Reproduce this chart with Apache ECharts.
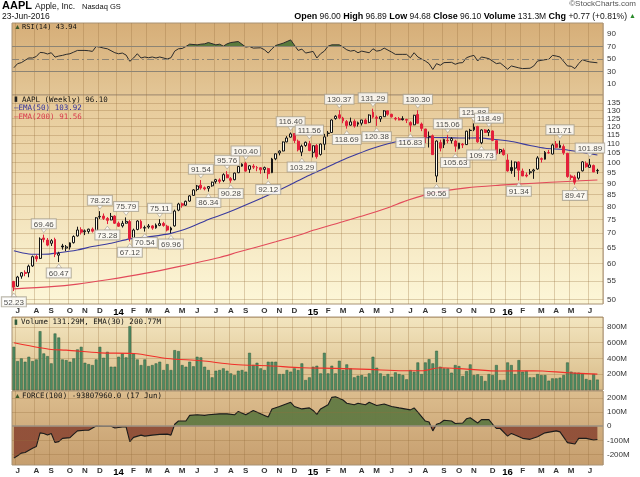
<!DOCTYPE html>
<html><head><meta charset="utf-8"><title>AAPL weekly</title>
<script src="https://cdn.jsdelivr.net/npm/echarts@6.0.0/dist/echarts.min.js"></script>
<style>html,body{margin:0;padding:0;background:#fff;}#chart{width:640px;height:477px;}</style>
</head><body><div id="chart"></div>
<script>
// ---------- DATA ----------
const dates = ['2013-06-24','2013-07-01','2013-07-08','2013-07-15','2013-07-22','2013-07-29','2013-08-05','2013-08-12','2013-08-19','2013-08-26','2013-09-02','2013-09-09','2013-09-16','2013-09-23','2013-09-30','2013-10-07','2013-10-14','2013-10-21','2013-10-28','2013-11-04','2013-11-11','2013-11-18','2013-11-25','2013-12-02','2013-12-09','2013-12-16','2013-12-23','2013-12-30',
'2014-01-06','2014-01-13','2014-01-20','2014-01-27','2014-02-03','2014-02-10','2014-02-17','2014-02-24','2014-03-03','2014-03-10','2014-03-17','2014-03-24','2014-03-31','2014-04-07','2014-04-14','2014-04-21','2014-04-28','2014-05-05','2014-05-12','2014-05-19','2014-05-26','2014-06-02','2014-06-09','2014-06-16','2014-06-23','2014-06-30','2014-07-07','2014-07-14','2014-07-21','2014-07-28','2014-08-04','2014-08-11','2014-08-18','2014-08-25','2014-09-01','2014-09-08','2014-09-15','2014-09-22','2014-09-29','2014-10-06','2014-10-13','2014-10-20','2014-10-27','2014-11-03','2014-11-10','2014-11-17','2014-11-24','2014-12-01','2014-12-08','2014-12-15','2014-12-22','2014-12-29',
'2015-01-05','2015-01-12','2015-01-19','2015-01-26','2015-02-02','2015-02-09','2015-02-16','2015-02-23','2015-03-02','2015-03-09','2015-03-16','2015-03-23','2015-03-30','2015-04-06','2015-04-13','2015-04-20','2015-04-27','2015-05-04','2015-05-11','2015-05-18','2015-05-25','2015-06-01','2015-06-08','2015-06-15','2015-06-22','2015-06-29','2015-07-06','2015-07-13','2015-07-20','2015-07-27','2015-08-03','2015-08-10','2015-08-17','2015-08-24','2015-08-31','2015-09-07','2015-09-14','2015-09-21','2015-09-28','2015-10-05','2015-10-12','2015-10-19','2015-10-26','2015-11-02','2015-11-09','2015-11-16','2015-11-23','2015-11-30','2015-12-07','2015-12-14','2015-12-21','2015-12-28',
'2016-01-04','2016-01-11','2016-01-18','2016-01-25','2016-02-01','2016-02-08','2016-02-15','2016-02-22','2016-02-29','2016-03-07','2016-03-14','2016-03-21','2016-03-28','2016-04-04','2016-04-11','2016-04-18','2016-04-25','2016-05-02','2016-05-09','2016-05-16','2016-05-23','2016-05-30','2016-06-06','2016-06-13','2016-06-20','2016-06-27'];

const opens = [54.8,53.5,56.3,57.4,57.3,59.3,62.2,61.6,68.3,67.6,
66.5,67.8,62.6,65.6,64.9,65.2,66.7,69.0,71.2,70.5,
70.6,71.4,70.9,76.0,76.3,75.4,74.8,76.3,73.6,72.6,
73.6,74.2,68.2,71.3,74.3,71.8,72.2,72.6,71.9,72.8,
73.5,72.5,71.1,72.6,78.6,81.2,80.6,82.3,84.7,87.3,
89.2,88.0,87.8,88.9,90.8,91.6,91.3,94.0,92.2,91.7,
95.0,98.2,99.6,96.6,98.2,97.3,97.4,96.6,97.0,95.0,
101.9,105.0,106.0,111.0,113.7,115.8,111.4,105.4,109.0,110.0,
105.3,109.0,104.2,109.7,115.8,116.4,124.9,127.3,125.2,123.0,
120.8,123.2,121.4,122.0,124.0,122.5,129.0,125.7,124.7,126.1,
129.9,127.6,125.1,124.8,124.8,124.3,122.4,121.0,127.5,121.5,
118.5,114.0,114.5,93.4,110.6,109.4,111.9,111.7,111.5,107.3,
109.7,109.5,117.7,118.0,120.0,110.5,117.9,116.5,117.3,111.7,
105.5,106.5,101.3,97.5,97.2,100.3,95.8,93.9,95.0,95.8,
96.8,102.0,101.7,105.2,104.4,109.8,107.9,108.4,104.8,93.4,
93.0,92.4,95.9,99.6,97.6,98.5,95.9];

const highs = [55.0,56.4,57.5,58.0,59.7,62.5,62.8,68.5,69.46,68.3,
67.9,68.4,63.7,66.3,65.9,66.8,69.2,72.3,72.1,71.3,
71.6,72.0,75.9,78.22,77.3,75.9,77.5,76.6,74.2,74.5,
75.79,74.8,71.6,74.7,74.9,72.7,73.3,72.9,73.5,75.11,
74.1,73.0,72.3,78.8,81.6,81.7,82.5,84.8,87.4,89.3,
91.54,88.6,88.7,90.8,92.1,92.3,94.7,95.76,92.9,95.0,
98.3,99.6,100.40,98.7,99.2,98.3,97.7,98.0,97.4,102.4,
104.6,106.4,111.2,114.3,116.40,115.9,112.3,109.5,111.2,111.56,
109.0,109.8,110.1,115.6,117.3,124.4,127.0,130.37,126.0,124.0,
125.5,124.4,123.0,124.0,124.9,127.6,131.29,126.8,126.3,130.4,
130.0,128.0,125.9,125.9,126.4,124.8,123.2,127.3,130.30,122.4,
118.6,117.0,115.2,111.8,112.2,112.8,115.06,113.7,112.2,110.4,
110.4,117.4,118.6,121.88,120.4,118.3,118.4,118.49,117.6,112.0,
107.2,107.4,104.3,101.1,100.5,100.6,97.0,95.1,96.8,96.9,
103.3,102.6,106.0,106.6,110.0,111.5,111.71,109.6,105.0,94.1,
93.8,95.4,100.7,100.6,101.89,99.0,96.9];

const lows = [52.23,53.3,55.6,56.3,56.0,59.0,60.6,61.4,66.8,65.5,
65.6,62.0,60.47,64.4,63.9,64.4,66.4,68.8,69.5,69.3,
69.8,70.2,70.8,75.2,74.8,73.28,74.7,73.3,72.2,72.0,
73.4,67.12,67.5,71.0,71.5,70.54,71.6,71.2,71.6,72.5,
72.3,70.6,69.96,72.3,78.2,79.6,80.3,82.0,84.5,86.5,
87.2,86.9,86.34,88.5,89.9,90.0,90.6,92.4,90.28,91.4,
94.8,97.9,95.5,94.9,96.8,95.7,94.5,94.8,92.12,94.8,
101.2,103.7,105.9,110.8,113.4,110.4,105.8,103.29,108.3,105.9,
102.6,102.0,103.6,106.5,114.0,116.1,124.2,124.5,122.0,118.69,
120.5,119.3,120.0,120.6,121.6,122.0,125.0,120.38,122.8,126.0,
126.7,125.5,123.7,123.8,123.7,122.1,116.83,120.8,121.7,117.2,
110.3,107.9,103.9,90.56,105.8,107.6,110.2,110.1,105.63,106.9,
107.6,109.3,112.3,117.2,110.5,109.73,116.2,114.3,111.4,104.0,
104.4,103.6,95.5,94.5,93.0,91.34,93.4,92.8,94.1,92.1,
96.4,100.0,101.5,104.5,104.2,107.5,107.6,104.0,92.6,91.6,
89.47,91.7,95.6,97.4,97.5,95.3,94.4];

const closes = [53.27,56.07,57.29,57.09,59.24,62.13,61.45,67.92,67.74,65.88,
67.36,62.86,63.20,65.27,65.31,66.63,68.81,71.12,70.32,70.81,
71.41,70.70,75.63,76.17,75.41,74.67,76.18,73.58,72.48,73.54,
74.27,68.08,71.10,74.42,71.87,72.00,72.57,71.79,72.90,73.45,
72.76,71.09,71.82,78.25,81.10,80.56,82.21,84.49,87.09,88.82,
87.91,87.56,88.59,90.56,91.71,90.95,94.07,92.58,91.44,94.83,
98.06,99.20,95.78,98.39,97.71,97.51,96.41,97.49,94.52,101.83,
104.52,105.96,110.98,113.21,115.60,111.78,106.66,108.65,110.80,106.27,
108.87,103.02,109.82,113.88,116.05,124.00,126.37,125.35,123.54,120.60,
122.85,120.27,122.29,124.02,121.73,127.13,125.83,125.04,126.17,129.86,
127.65,126.05,124.60,124.04,124.19,123.89,120.79,127.00,121.99,118.85,
113.69,114.13,104.09,111.50,107.54,112.41,111.66,112.90,108.64,110.35,
109.29,117.20,117.61,119.66,111.04,117.92,116.44,117.65,111.87,104.80,
106.78,104.04,95.84,96.00,100.24,96.21,93.45,93.42,95.45,96.32,
102.38,101.64,105.27,105.03,109.32,108.00,109.18,105.04,93.17,92.72,
90.52,95.22,100.35,97.92,98.83,95.33,96.10];

// volume in millions
const volumes = [547,366,400,358,421,366,387,745,463,429,
337,716,665,387,379,358,400,514,547,345,
328,316,387,547,408,484,295,295,421,463,
413,808,463,387,316,387,303,316,337,358,
253,328,253,505,493,316,295,358,300,421,
413,295,253,160,244,253,274,244,210,189,
244,253,232,471,316,345,274,253,358,358,
358,202,202,253,232,274,253,337,126,160,
295,307,210,471,210,307,210,370,253,324,
274,160,181,189,168,210,421,282,210,177,
202,168,223,202,189,135,253,230,349,202,
349,391,337,497,295,274,274,219,316,303,
177,240,324,189,198,177,114,202,189,316,
126,126,349,316,202,379,232,240,160,160,
202,189,189,118,147,147,156,189,349,232,
219,219,202,139,126,202,131.29];

// [week index, value]
const ema50 = [[0,64.0],[4,63.0],[8,62.9],[12,63.4],[17,64.3],[21,65.4],[26,66.5],[31,68.0],[36,68.7],[42,69.9],[47,72.0],[52,75.0],[55,76.5],[59,78.8],[64,82.0],[69,85.5],[74,89.5],[78,93.0],[83,97.0],[87,100.5],[92,104.5],[96,107.5],[100,110.0],[104,111.8],[108,113.0],[112,113.5],[116,113.4],[120,113.2],[124,113.3],[128,112.5],[133,111.2],[138,109.0],[142,107.5],[147,106.8],[151,105.6],[156,103.92]];
const ema200 = [[0,52.8],[10,53.4],[17,54.1],[25,55.3],[35,57.1],[44,59.1],[55,61.9],[60,63.6],[70,67.0],[77,69.6],[80,71.0],[87,73.8],[94,76.7],[100,79.6],[105,82.5],[112,85.8],[121,88.0],[130,89.2],[139,90.1],[148,90.9],[156,91.56]];
const volEma30 = [[0,598],[7,535],[10,514],[14,505],[23,471],[32,463],[41,400],[50,370],[59,324],[68,307],[77,282],[86,274],[95,261],[104,244],[109,244],[114,282],[121,265],[130,240],[139,244],[148,219],[156,200.77]];
const rsi14 = [[0,36],[1,42.6],[2,44.2],[3,48],[4,51.6],[5,51.6],[6,54],[7,60.5],[8,60],[9,58],[10,60],[11,53],[12,54.7],[13,55.8],[14,57.4],[15,58.4],[16,61],[17,63.7],[19,63.7],[20,63.2],[21,62.1],[22,70],[23,69],[24,67.4],[25,66.3],[27,60],[28,58.4],[29,59.5],[30,56.3],[31,46.3],[32,51.6],[33,58.4],[34,51.6],[35,53.2],[36,52],[37,53.2],[38,51.6],[39,53.2],[41,50],[42,52],[43,62.6],[44,66.3],[45,66.8],[46,70],[47,73.7],[49,72.6],[50,73.7],[51,74.2],[52,76.3],[54,72.6],[55,73.7],[56,70.5],[57,74.2],[58,76.3],[60,77.9],[62,69],[63,70],[64,67.4],[66,67.9],[67,64.7],[68,59.5],[69,66.3],[70,71.6],[72,75.3],[74,80.5],[76,63.7],[77,65.8],[78,59.5],[80,62.1],[81,51.6],[82,58.4],[83,62.6],[84,70.5],[85,72.6],[87,72.6],[88,69],[89,64.7],[90,62.6],[91,63.7],[92,60],[93,62.6],[95,60],[96,66.3],[97,62.6],[98,63.7],[99,67.4],[101,61],[102,57.4],[104,57.4],[105,57.4],[106,52],[107,60],[108,53.2],[110,46.8],[111,42.6],[112,33.2],[113,42.6],[114,40],[115,44.2],[117,44.7],[118,41.6],[119,43.7],[120,44.2],[121,52],[122,54.2],[123,55.8],[124,46.8],[125,53.2],[126,52],[127,50.5],[129,42.6],[130,43.7],[131,38.9],[132,33.7],[133,38.9],[135,35.8],[136,34.7],[138,35.3],[139,38.9],[140,46.8],[142,48.9],[143,49.5],[144,55.8],[145,54.7],[146,53.2],[148,38.9],[149,38.4],[150,34.7],[151,42.6],[152,48.9],[153,46.8],[154,45.3],[156,43.94]];
// Force index in millions
const force100 = [[0,-226],[1,-209],[2,-191],[3,-186],[5,-156],[6,-144],[7,-47],[8,-51],[9,-63],[10,-51],[11,-116],[12,-109],[13,-86],[15,-81],[16,-56],[17,-33],[19,-28],[20,-28],[22,2],[24,0],[26,0],[27,-12],[29,-5],[30,-5],[31,-109],[32,-79],[34,-63],[35,-70],[37,-63],[39,-58],[41,-56],[42,-63],[43,14],[44,37],[46,37],[47,77],[49,81],[51,77],[52,81],[55,88],[57,88],[59,81],[60,105],[62,81],[64,112],[67,77],[68,65],[69,123],[71,140],[74,170],[75,140],[77,123],[79,130],[80,112],[81,84],[82,123],[84,153],[85,205],[86,209],[88,186],[89,163],[91,153],[92,163],[94,153],[95,170],[97,147],[99,158],[101,140],[103,130],[106,116],[107,130],[108,100],[110,37],[111,30],[112,-33],[113,14],[114,23],[115,42],[117,37],[118,19],[120,23],[121,53],[122,60],[124,23],[125,47],[127,47],[128,14],[129,-16],[130,-16],[132,-70],[133,-51],[134,-63],[136,-86],[138,-93],[140,-74],[142,-47],[145,-33],[146,-40],[148,-116],[150,-126],[151,-86],[153,-86],[155,-98],[156,-93.8]];

// annotated highs / lows: [week index, value, 't' above | 'b' below]
const annotations = [[0,52.23,'b'],[8,69.46,'t'],[12,60.47,'b'],[23,78.22,'t'],[25,73.28,'b'],[30,75.79,'t'],[31,67.12,'b'],[35,70.54,'b'],[39,75.11,'t'],[42,69.96,'b'],[50,91.54,'t'],[52,86.34,'b'],[57,95.76,'t'],[58,90.28,'b'],[62,100.40,'t'],[68,92.12,'b'],[74,116.40,'t'],[77,103.29,'b'],[79,111.56,'t'],[87,130.37,'t'],[89,118.69,'b'],[96,131.29,'t'],[97,120.38,'b'],[106,116.83,'b'],[108,130.30,'t'],[113,90.56,'b'],[116,115.06,'t'],[118,105.63,'b'],[123,121.88,'t'],[125,109.73,'b'],[127,118.49,'t'],[135,91.34,'b'],[146,111.71,'t'],[150,89.47,'b'],[154,101.89,'t']];

const priceTicks = [50,55,60,65,70,75,80,85,90,95,100,105,110,115,120,125,130,135];
const rsiTicks = [10,30,50,70,90];
const volTicks = [200,400,600,800];
const forceTicks = [-200,-100,0,100,200];
const monthLetters = ['J','F','M','A','M','J','J','A','S','O','N','D'];

// ---------- STYLE ----------
const FONT = '"Liberation Sans", Arial, sans-serif';
const MONO = '"DejaVu Sans Mono", monospace';
const RED = '#e3203a', BLACK = '#151515', HOLLOW = '#fffbea';
const GRIDC = 'rgba(150,108,60,0.30)';
const BORDER = '#a89274';

const isLabel = dates.map((d, i) => i > 0 && d.slice(5, 7) !== dates[i - 1].slice(5, 7));
function fmtX(v) {
  const m = +v.slice(5, 7);
  if (m === 1) return '{y|' + v.slice(2, 4) + '}';
  return monthLetters[m - 1];
}
function lg(c1, c2) {
  return {type: 'linear', x: 0, y: 0, x2: 0, y2: 1, colorStops: [{offset: 0, color: c1}, {offset: 1, color: c2}]};
}

const L = 12, R = 37;
const gridDefs = [
  {top: 23, height: 72, bg: lg('#d6ae78', '#e3c696')},
  {top: 95, height: 209, bg: lg('#e6c998', '#fdf7d8')},
  {top: 317, height: 73, bg: lg('#f3e6c0', '#d9bb88')},
  {top: 391, height: 74, bg: lg('#dcbd8e', '#c69e6e')}
];

const candleData = closes.map((c, i) => {
  const o = opens[i];
  const prev = i > 0 ? closes[i - 1] : o;
  const col = c < prev ? RED : BLACK;
  const fill = c > o ? HOLLOW : col;
  return {value: [o, c, lows[i], highs[i]],
    itemStyle: {color: fill, color0: fill, borderColor: col, borderColor0: col, borderWidth: 1}};
});

const annData = annotations.map(a => {
  const top = a[2] === 't';
  return {
    value: [a[0], a[1]],
    symbolRotate: top ? 180 : 0,
    symbolOffset: [0, top ? -4 : 4],
    label: {position: top ? 'top' : 'bottom', formatter: a[1].toFixed(2)}
  };
});

const xAxes = [0, 1, 2, 3].map(i => ({
  type: 'category', gridIndex: i, data: dates, boundaryGap: true,
  axisLine: {show: false}, axisTick: {show: false},
  axisLabel: (i === 1 || i === 3) ? {
    show: true, interval: (idx) => isLabel[idx], formatter: fmtX,
    fontFamily: FONT, fontSize: 8, fontWeight: 'bold', color: '#333', margin: i === 1 ? 3 : 2,
    rich: {y: {fontFamily: FONT, fontSize: 9.5, fontWeight: 'bold', color: '#000'}}
  } : {show: false},
  splitLine: {show: true, interval: (idx) => isLabel[idx], lineStyle: {color: GRIDC, width: 1}}
}));

const yLabel = {fontFamily: FONT, fontSize: 8, color: '#333', margin: 4};
const yAxes = [
  {gridIndex: 0, type: 'value', position: 'right', min: -7.5, max: 107.5, interval: 2.5,
    axisLine: {show: false}, axisTick: {show: false}, splitLine: {show: false},
    axisLabel: Object.assign({formatter: v => rsiTicks.includes(v) ? String(v) : ''}, yLabel)},
  {gridIndex: 1, type: 'log', position: 'right', min: 48.92, max: 140.7,
    axisLine: {show: false}, axisTick: {show: false}, splitLine: {show: false}, axisLabel: {show: false}},
  {gridIndex: 2, type: 'value', position: 'right', min: 0, max: 925, interval: 200,
    axisLine: {show: false}, axisTick: {show: false},
    splitLine: {show: true, lineStyle: {color: GRIDC}},
    axisLabel: Object.assign({formatter: v => volTicks.includes(v) ? v + 'M' : ''}, yLabel)},
  {gridIndex: 3, type: 'value', position: 'right', min: -275, max: 250, interval: 25,
    axisLine: {show: false}, axisTick: {show: false}, splitLine: {show: false},
    axisLabel: Object.assign({formatter: v => forceTicks.includes(v) ? (v === 0 ? '0' : v + 'M') : ''}, yLabel)}
];

const hLine = (v, style) => ({yAxis: v, lineStyle: style});

const series = [
  // 0: RSI overbought fill
  {type: 'line', xAxisIndex: 0, yAxisIndex: 0, data: rsi14, symbol: 'none', silent: true,
    lineStyle: {width: 0, opacity: 0}, areaStyle: {opacity: 1}, z: 2},
  // 1: RSI line
  {type: 'line', xAxisIndex: 0, yAxisIndex: 0, data: rsi14, symbol: 'none', silent: true,
    lineStyle: {color: '#2b2b2b', width: 1}, z: 4,
    markLine: {silent: true, symbol: 'none', label: {show: false}, data: [
      hLine(70, {color: '#8d8474', type: 'solid', width: 1.2}),
      hLine(30, {color: '#8d8474', type: 'solid', width: 1.2}),
      hLine(50, {color: '#8d8474', type: [7, 3, 2, 3], width: 1})
    ]}},
  // 2: candles
  {type: 'candlestick', xAxisIndex: 1, yAxisIndex: 1, data: candleData, barWidth: 2.4, z: 5,
    markLine: {silent: true, symbol: 'none', z: 1,
      label: {show: true, position: 'end', distance: 4, formatter: p => String(p.value),
        fontFamily: FONT, fontSize: 8, color: '#333'},
      lineStyle: {color: GRIDC, type: 'solid', width: 1},
      data: priceTicks.map(v => ({yAxis: v}))}},
  // 3: EMA50
  {type: 'line', xAxisIndex: 1, yAxisIndex: 1, data: ema50, symbol: 'none', smooth: 0.3, silent: true,
    lineStyle: {color: '#3a3a9e', width: 1.1}, z: 3},
  // 4: EMA200
  {type: 'line', xAxisIndex: 1, yAxisIndex: 1, data: ema200, symbol: 'none', smooth: 0.3, silent: true,
    lineStyle: {color: '#e24a5a', width: 1.1}, z: 3},
  // 5: annotations
  {type: 'scatter', xAxisIndex: 1, yAxisIndex: 1, data: annData, symbol: 'triangle', symbolSize: [6, 4],
    clip: false, silent: true, z: 8,
    itemStyle: {color: '#ffffff', borderColor: '#a9a293', borderWidth: 0.8},
    label: {show: true, distance: 0, fontFamily: FONT, fontSize: 8, color: '#1a1a1a',
      backgroundColor: '#ffffff', borderColor: '#a9a293', borderWidth: 1, padding: [1, 2, 0, 2]}},
  // 6: volume
  {type: 'bar', xAxisIndex: 2, yAxisIndex: 2, data: volumes, barWidth: 2.8, silent: true,
    itemStyle: {color: '#4f8c63', borderColor: '#2e5b3d', borderWidth: 0.5}, z: 3},
  // 7: volume EMA30
  {type: 'line', xAxisIndex: 2, yAxisIndex: 2, data: volEma30, symbol: 'none', smooth: 0.3, silent: true,
    lineStyle: {color: '#f0302a', width: 1.1}, z: 4},
  // 8: force fill
  {type: 'line', xAxisIndex: 3, yAxisIndex: 3, data: force100, symbol: 'none', silent: true,
    lineStyle: {width: 0, opacity: 0}, areaStyle: {opacity: 0.95}, z: 2},
  // 9: force line
  {type: 'line', xAxisIndex: 3, yAxisIndex: 3, data: force100, symbol: 'none', silent: true,
    lineStyle: {color: '#1b1b1b', width: 1.1}, z: 4,
    markLine: {silent: true, symbol: 'none', label: {show: false}, data: [
      hLine(0, {color: '#9b8f80', type: 'solid', width: 1.6}),
      hLine(100, {color: GRIDC, type: 'solid', width: 1}),
      hLine(200, {color: GRIDC, type: 'solid', width: 1}),
      hLine(-100, {color: GRIDC, type: 'solid', width: 1}),
      hLine(-200, {color: GRIDC, type: 'solid', width: 1})
    ]}}
];

const T = (left, top, text, font, fill) => ({type: 'text', left, top, z: 100, style: {text, font, fill}});

const option = {
  animation: false,
  backgroundColor: '#ffffff',
  textStyle: {fontFamily: FONT},
  grid: gridDefs.map(g => ({left: L, right: R, top: g.top, height: g.height, show: true,
    backgroundColor: g.bg, borderColor: BORDER, borderWidth: 1, containLabel: false})),
  xAxis: xAxes,
  yAxis: yAxes,
  visualMap: [
    {type: 'piecewise', show: false, seriesIndex: 0, dimension: 1,
      pieces: [{min: -50, max: 70, color: 'rgba(90,122,60,0)'}, {min: 70, max: 150, color: '#5a7a3c'}],
      outOfRange: {color: 'rgba(90,122,60,0)'}},
    {type: 'piecewise', show: false, seriesIndex: 8, dimension: 1,
      pieces: [{min: -1000, max: 0, color: '#8f4d37'}, {min: 0, max: 1000, color: '#627a43'}],
      outOfRange: {color: '#627a43'}}
  ],
  series,
  graphic: [
    T(2, 0, 'AAPL', 'bold 11px ' + FONT, '#000'),
    T(35, 2, 'Apple, Inc.', '8.5px ' + FONT, '#111'),
    T(82, 3, 'Nasdaq GS', '7.5px ' + FONT, '#111'),
    T(2, 12, '23-Jun-2016', '8.5px ' + FONT, '#111'),
    {type: 'text', right: 4, top: 0, z: 100, style: {text: '©StockCharts.com', font: '8px ' + FONT, fill: '#555'}},
    {type: 'text', right: 13, top: 12, z: 100, style: {
      text: '{b|Open} 96.00 {b|High} 96.89 {b|Low} 94.68 {b|Close} 96.10 {b|Volume} 131.3M {b|Chg} +0.77 (+0.81%)',
      font: '8.5px ' + FONT, fill: '#111',
      rich: {b: {fontWeight: 'bold', fontSize: 9, fontFamily: FONT, fill: '#000'}}}},
    {type: 'text', right: 4, top: 13, z: 100, style: {text: '▲', font: '7px ' + FONT, fill: '#2a8a2a'}},
    // panel titles
    T(14, 24, '▲', '7px ' + FONT, '#3d5a2a'),
    T(22, 24, 'RSI(14) 43.94', '7px ' + MONO, '#111'),
    T(14, 96, '▮', '7px ' + FONT, '#222'),
    T(22, 96, 'AAPL (Weekly) 96.10', '7.5px ' + MONO, '#111'),
    T(14, 104.5, '—EMA(50) 103.92', '7.5px ' + MONO, '#2f2f9a'),
    T(14, 113, '—EMA(200) 91.56', '7.5px ' + MONO, '#d8364a'),
    T(14, 318.5, '▮', '7px ' + FONT, '#2e5b3d'),
    T(21, 318.5, 'Volume 131.29M, EMA(30) 200.77M', '7.5px ' + MONO, '#111'),
    T(14, 392.5, '▲', '7px ' + FONT, '#3d5a2a'),
    T(22, 392.5, 'FORCE(100) -93807960.0 (17 Jun)', '7.5px ' + MONO, '#111')
  ]
};

const chart = echarts.init(document.getElementById('chart'), null, {renderer: 'canvas', width: 640, height: 477});
chart.setOption(option);
</script>
</body></html>
